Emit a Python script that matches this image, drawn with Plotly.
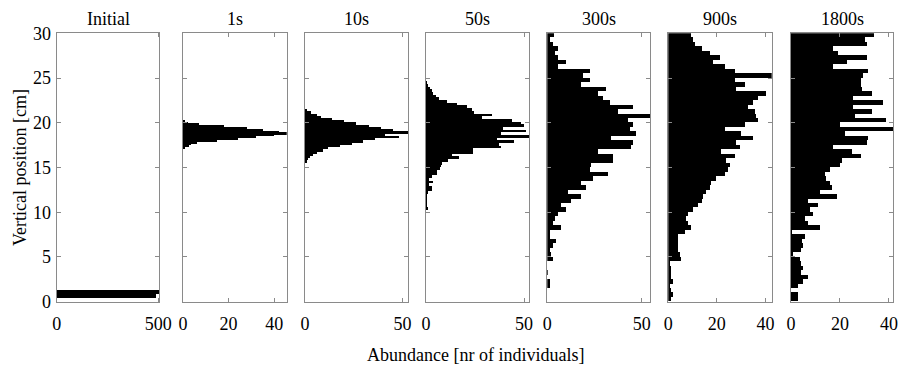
import numpy as np
import plotly.graph_objects as go

# ---------------- data ----------------
panel_titles = ["Initial", "1s", "10s", "50s", "300s", "900s", "1800s"]

# Initial distribution (bin centres in cm, counts)
initial_pos = [0.60, 1.07]
initial_counts = [489, 520]
initial_binw = 0.47

# 1 s (top -> bottom)
s1_pos = [20.2, 20.0, 19.8, 19.6, 19.4, 19.2, 19.0, 18.8, 18.6, 18.4, 18.2, 18.0, 17.8, 17.6, 17.4, 17.2]
s1_counts = [1, 2, 7, 18, 28, 35, 42, 46, 40, 32, 24, 15, 6, 3.5, 2.5, 1]
s1_binw = 0.2

# 10 s (top -> bottom)
s10_pos = [21.375, 21.125, 20.875, 20.625, 20.375, 20.125, 19.875, 19.625, 19.375, 19.125,
           18.875, 18.625, 18.375, 18.125, 17.875, 17.625, 17.375, 17.125, 16.875, 16.625,
           16.375, 16.125, 15.875, 15.625]
s10_counts = [1, 3, 6, 8, 14, 20, 26, 33, 39, 45, 54, 41, 48, 36, 30, 24, 18, 12, 9, 6, 4, 2.5, 1.5, 1]
s10_binw = 0.25

# 50 s (top -> bottom)
s50_pos = [24.45, 24.15, 23.85, 23.55, 23.25, 22.95, 22.65, 22.35, 22.05, 21.75,
           21.45, 21.15, 20.85, 20.55, 20.25, 19.95, 19.65, 19.35, 19.05, 18.75,
           18.45, 18.15, 17.85, 17.55, 17.25, 16.95, 16.65, 16.35, 16.05, 15.75,
           15.45, 15.15, 14.85, 14.55, 14.25, 13.95, 13.65, 13.35, 13.05, 12.75,
           12.45, 12.15, 11.85, 11.55, 11.25, 10.95, 10.65, 10.35]
s50_counts = [0.5, 1.2, 2, 3, 3.7, 5, 6.5, 10.5, 16, 21,
              23.5, 24.5, 33.8, 28.5, 44, 48.3, 49.7, 39, 51, 38,
              53, 36.4, 45, 37, 38, 23.8, 24, 13.4, 16.8, 11,
              8.3, 7.5, 7, 5.8, 5.4, 3, 1.5, 3.7, 1.5, 2.9,
              2.9, 1, 0.5, 0.3, 0.3, 0.3, 0.3, 1.2]
s50_binw = 0.3

# 300 s, 900 s, 1800 s : 0.5 cm bins, listed from top (29.75 cm) to bottom (0.25 cm)
bin60_pos = list(np.round(np.arange(29.75, 0.0, -0.5), 2))
bin60_w = 0.5
s300_counts = [3.5, 1.5, 3.2, 5.8, 4.1, 5.8, 10.3, 5.8, 22.6, 19,
               22.6, 18.2, 31.5, 27, 29.8, 33.2, 45.6, 37.6, 56, 42.9,
               45.6, 43.8, 47.3, 34, 45.6, 44.7, 27, 35, 35, 23.5,
               22.6, 32.3, 24.4, 18.2, 20.9, 11.1, 18.2, 12.9, 7.6, 10.3,
               5.8, 4.1, 3.2, 7.6, 1.4, 1.4, 5.0, 3.2, 1.4, 2.3,
               3.2, 0, 0, 0.3, 0, 1.4, 1.4, 0, 0, 0]
s900_counts = [9.6, 10.3, 11, 14, 17.2, 21.3, 18.5, 23.3, 27.4, 45,
               27.4, 31.6, 28.1, 40.5, 37, 35, 32.9, 35.7, 36.4, 37,
               31.6, 23.3, 30.2, 35, 28.1, 29.5, 22, 27.4, 24, 25.4,
               24.7, 23.3, 19.9, 17.9, 17.2, 15.8, 14.4, 13.8, 12.5, 10.3,
               8.2, 7.6, 8.2, 9.6, 6.9, 4.1, 4.1, 4.1, 4.1, 4.8,
               5.5, 0.7, 1.4, 1.4, 1.4, 2.1, 0.7, 1.4, 2.1, 1.4]
s1800_counts = [34, 30.2, 31, 17.3, 19.3, 30.9, 22.7, 17.3, 31.6, 29.5,
                28.8, 28.8, 29, 32.9, 25.4, 37.7, 25.4, 32.9, 26.1, 39,
                20, 44, 22, 31.6, 31, 17.3, 24.8, 28.8, 20.7, 20,
                15.9, 13.9, 14.5, 15.9, 16.6, 11.8, 18.7, 7.1, 11.2, 7.8,
                9.0, 5.7, 7.1, 11.8, 0.3, 5.7, 4.4, 5.0, 4.2, 1,
                3.7, 4, 5, 4, 7.1, 5, 3, 0, 3, 3]

x_max = [505, 45.5, 53, 52.5, 54.4, 42.6, 41.8]
x_ticks = [[0, 500], [0, 20, 40], [0, 50], [0, 50], [0, 50], [0, 20, 40], [0, 20, 40]]
y_ticks = [0, 5, 10, 15, 20, 25, 30]

x_label = "Abundance [nr of individuals]"
y_label = "Vertical position [cm]"

# ---------------- layout geometry ----------------
W, H = 898, 365
panel_px = [(56.7, 159.3), (183, 286.7), (305, 408.3), (426, 529),
            (547.3, 650), (668.3, 771.7), (791, 893.3)]
plot_top_px, plot_bot_px = 33.3, 301.7
ydom = [1 - plot_bot_px / H, 1 - plot_top_px / H]

FONT = "Liberation Serif, Times New Roman, DejaVu Serif, serif"
AX_COL = "#8a8a8a"

series = [
    (initial_pos, initial_counts, initial_binw),
    (s1_pos, s1_counts, s1_binw),
    (s10_pos, s10_counts, s10_binw),
    (s50_pos, s50_counts, s50_binw),
    (bin60_pos, s300_counts, bin60_w),
    (bin60_pos, s900_counts, bin60_w),
    (bin60_pos, s1800_counts, bin60_w),
]

fig = go.Figure()
layout_axes = {}
for i, (pos, cnt, bw) in enumerate(series):
    n = i + 1
    xa = "x" if n == 1 else f"x{n}"
    ya = "y" if n == 1 else f"y{n}"
    fig.add_trace(go.Bar(
        x=cnt, y=pos, width=bw, orientation="h",
        marker=dict(color="black", line=dict(width=0)),
        xaxis=xa, yaxis=ya, showlegend=False, hoverinfo="skip",
    ))
    d0, d1 = panel_px[i]
    layout_axes["xaxis" if n == 1 else f"xaxis{n}"] = dict(
        domain=[d0 / W, d1 / W], anchor=ya, range=[0, x_max[i]],
        tickmode="array", tickvals=x_ticks[i],
        ticks="inside", ticklen=4, tickwidth=1, tickcolor=AX_COL,
        showline=True, linecolor=AX_COL, linewidth=1, mirror="ticks",
        showgrid=False, zeroline=False, automargin=False,
        tickfont=dict(family=FONT, size=18, color="black"),
        ticklabelstandoff=6, fixedrange=True,
    )
    layout_axes["yaxis" if n == 1 else f"yaxis{n}"] = dict(
        domain=ydom, anchor=xa, range=[0, 30],
        tickmode="array", tickvals=y_ticks, showticklabels=(n == 1),
        ticks="inside", ticklen=4, tickwidth=1, tickcolor=AX_COL,
        showline=True, linecolor=AX_COL, linewidth=1, mirror="ticks",
        showgrid=False, zeroline=False, automargin=False,
        tickfont=dict(family=FONT, size=18, color="black"),
        ticklabelstandoff=1, fixedrange=True,
    )

annotations = []
for i, t in enumerate(panel_titles):
    n = i + 1
    annotations.append(dict(
        text=t, xref=("x" if n == 1 else f"x{n}") + " domain", yref="paper",
        x=0.5, y=ydom[1], xanchor="center", yanchor="bottom", yshift=2,
        showarrow=False, font=dict(family=FONT, size=18, color="black"),
    ))
annotations.append(dict(
    text=x_label, xref="paper", yref="paper", x=475 / W, y=1 - 355 / H,
    xanchor="center", yanchor="middle", showarrow=False,
    font=dict(family=FONT, size=18, color="black"),
))
annotations.append(dict(
    text=y_label, xref="paper", yref="paper", x=20.5 / W, y=sum(ydom) / 2,
    xanchor="center", yanchor="middle", textangle=-90, showarrow=False,
    font=dict(family=FONT, size=18, color="black"),
))

fig.update_layout(
    width=W, height=H, margin=dict(l=0, r=0, t=0, b=0, pad=0, autoexpand=False),
    paper_bgcolor="white", plot_bgcolor="white",
    bargap=0, barmode="overlay",
    font=dict(family=FONT, size=18, color="black"),
    annotations=annotations,
    **layout_axes,
)

fig.write_html("out.html", config={"displayModeBar": False})
